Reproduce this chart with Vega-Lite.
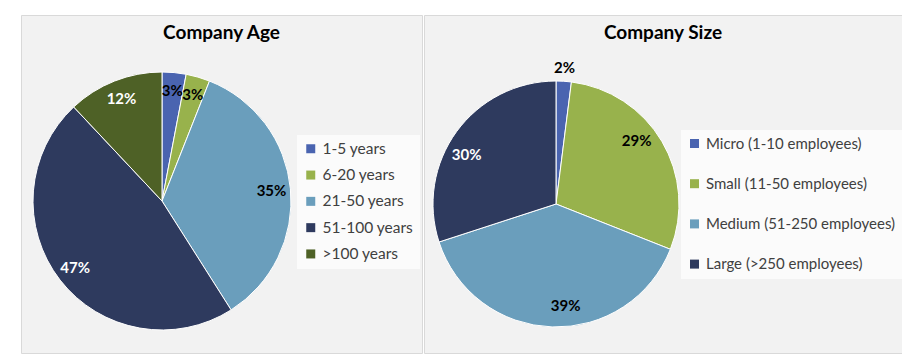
{
  "$schema": "https://vega.github.io/schema/vega-lite/v6.json",
  "background": "white",
  "padding": {"left": 20, "top": 14, "right": 0, "bottom": 0},
  "spacing": 0,
  "resolve": {"scale": {"color": "independent"}, "legend": {"color": "independent"}},
  "config": {
    "view": {"fill": "#f2f2f2", "stroke": "#d9d9d9", "strokeWidth": 1},
    "font": "Lato",
    "title": {"fontSize": 19, "fontWeight": "bold", "color": "#000000", "anchor": "middle", "offset": -28, "font": "Lato"},
    "legend": {"labelFontSize": 15, "labelColor": "#404040", "labelFont": "Lato", "labelLimit": 300, "symbolType": "square", "symbolSize": 81, "symbolStrokeWidth": 0, "fillColor": "#fbfbfb", "padding": 6}
  },
  "datasets": {
    "age": [
      {"category": "1-5 years", "pct": 0.03, "idx": 1},
      {"category": "6-20 years", "pct": 0.03, "idx": 2},
      {"category": "21-50 years", "pct": 0.35, "idx": 3},
      {"category": "51-100 years", "pct": 0.47, "idx": 4},
      {"category": ">100 years", "pct": 0.12, "idx": 5}
    ],
    "size": [
      {"category": "Micro (1-10 employees)", "pct": 0.02, "idx": 1},
      {"category": "Small (11-50 employees)", "pct": 0.29, "idx": 2},
      {"category": "Medium (51-250 employees)", "pct": 0.39, "idx": 3},
      {"category": "Large (>250 employees)", "pct": 0.30, "idx": 4}
    ]
  },
  "hconcat": [
    {
      "width": 401,
      "height": 338,
      "view": {"fill": "#f2f2f2", "stroke": "#d9d9d9", "strokeWidth": 1},
      "title": {"text": "Company Age"},
      "data": {"name": "age"},
      "encoding": {
        "theta": {"field": "pct", "type": "quantitative", "stack": true},
        "order": {"field": "idx", "type": "quantitative"}
      },
      "layer": [
        {
          "mark": {"type": "arc", "radius": 129, "xOffset": -59.5, "yOffset": 17, "stroke": "#ffffff", "strokeWidth": 1},
          "encoding": {
            "color": {
              "field": "category", "type": "nominal",
              "scale": {"domain": ["1-5 years", "6-20 years", "21-50 years", "51-100 years", ">100 years"],
                        "range": ["#4a64b0", "#98b24c", "#6a9ebc", "#2e3a5e", "#4e6126"]},
              "legend": {"title": null, "orient": "none", "legendX": 276, "legendY": 120, "rowPadding": 9.3, "labelFontSize": 15.5}
            }
          }
        },
        {
          "mark": {"type": "text", "radius": 110, "xOffset": -59.5, "yOffset": 17, "fontSize": 15, "fontWeight": "bold", "font": "Lato"},
          "encoding": {
            "text": {"field": "pct", "type": "quantitative", "format": ".0%"},
            "color": {
              "condition": {"test": "datum.category === '51-100 years' || datum.category === '>100 years'", "value": "#ffffff"},
              "value": "#000000"
            }
          }
        }
      ]
    },
    {
      "width": 478,
      "height": 338,
      "view": {"fill": "#f2f2f2", "stroke": "#d9d9d9", "strokeWidth": 1},
      "title": {"text": "Company Size"},
      "data": {"name": "size"},
      "encoding": {
        "theta": {"field": "pct", "type": "quantitative", "stack": true},
        "order": {"field": "idx", "type": "quantitative"}
      },
      "layer": [
        {
          "mark": {"type": "arc", "radius": 123, "xOffset": -107, "yOffset": 20, "stroke": "#ffffff", "strokeWidth": 1},
          "encoding": {
            "color": {
              "field": "category", "type": "nominal",
              "scale": {"domain": ["Micro (1-10 employees)", "Small (11-50 employees)", "Medium (51-250 employees)", "Large (>250 employees)"],
                        "range": ["#4a64b0", "#98b24c", "#6a9ebc", "#2e3a5e"]},
              "legend": {"title": null, "orient": "none", "legendX": 257, "legendY": 115, "rowPadding": 24.2}
            }
          }
        },
        {
          "transform": [{"filter": "datum.category !== 'Micro (1-10 employees)'"}],
          "mark": {"type": "text", "radius": 102, "xOffset": -107, "yOffset": 20, "fontSize": 15, "fontWeight": "bold", "font": "Lato"},
          "encoding": {
            "text": {"field": "pct", "type": "quantitative", "format": ".0%"},
            "color": {
              "condition": {"test": "datum.category === 'Large (>250 employees)'", "value": "#ffffff"},
              "value": "#000000"
            }
          }
        },
        {
          "transform": [{"filter": "datum.category === 'Micro (1-10 employees)'"}],
          "mark": {"type": "text", "radius": 136, "xOffset": -107, "yOffset": 20, "fontSize": 15, "fontWeight": "bold", "font": "Lato", "color": "#000000"},
          "encoding": {
            "text": {"field": "pct", "type": "quantitative", "format": ".0%"}
          }
        }
      ]
    }
  ]
}
